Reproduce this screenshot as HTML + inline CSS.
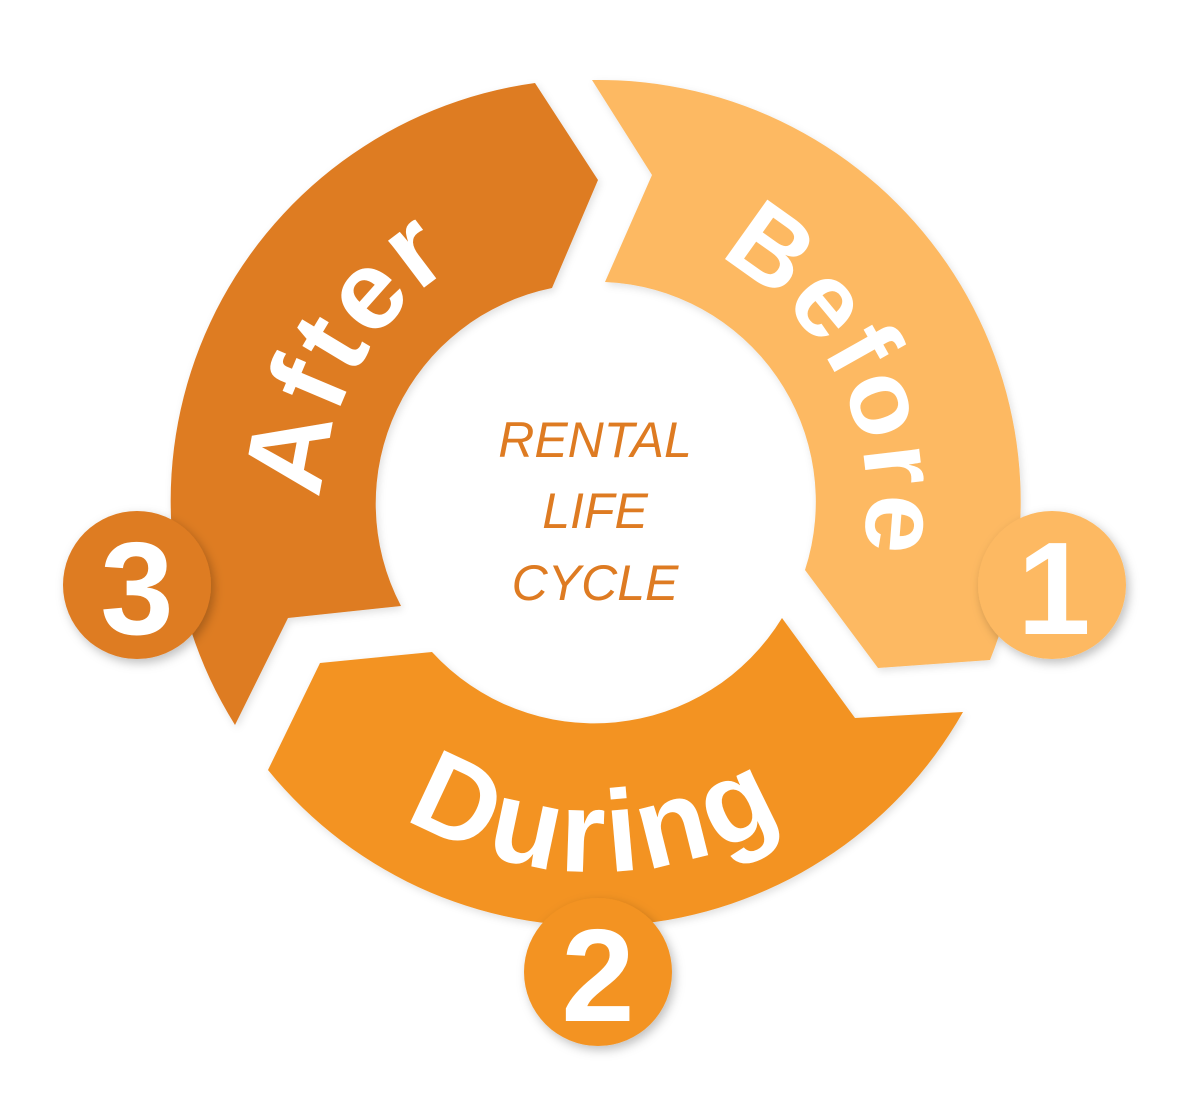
<!DOCTYPE html>
<html><head><meta charset="utf-8"><style>
html,body{margin:0;padding:0;background:#fff;}
svg{display:block;}
</style></head><body>
<svg width="1204" height="1113" viewBox="0 0 1204 1113" xmlns="http://www.w3.org/2000/svg">
<defs>
<filter id="sh" x="-30%" y="-30%" width="160%" height="160%">
<feDropShadow dx="3" dy="4" stdDeviation="5" flood-color="#000" flood-opacity="0.25"/>
</filter>
<filter id="sh2" x="-10%" y="-10%" width="120%" height="120%">
<feDropShadow dx="2" dy="3" stdDeviation="4" flood-color="#000" flood-opacity="0.12"/>
</filter>
<path id="pBefore" d="M 475.8,252.8 A 275 275 0 0 1 716.6,747.2"/>
<path id="pDuring" d="M 236,512 A 360 360 0 0 0 956,512"/>
<path id="pAfter" d="M 451,751 A 290 290 0 0 1 739,249"/>
</defs>
<g filter="url(#sh2)">
<path d="M592,80 A422 422 0 0 1 990,660 L878,668 L805,570 A220 220 0 0 0 605,282 L652,175 Z" fill="#FDB962"/>
<path d="M963,712 A422 422 0 0 1 268,770 L320,663 L432,652 A220 220 0 0 0 782,618 L855,718 Z" fill="#F39322"/>
<path d="M235,725 A422 422 0 0 1 535,83 L598,180 L552,288 A220 220 0 0 0 401,606 L288,618 Z" fill="#DE7B22"/>
</g>
<g font-family="Liberation Sans, sans-serif" font-weight="bold" fill="#fff">
<text font-size="106" text-anchor="middle" letter-spacing="3"><textPath href="#pBefore" startOffset="50%">Before</textPath></text>
<text font-size="116" text-anchor="middle" letter-spacing="5"><textPath href="#pDuring" startOffset="50%">During</textPath></text>
<text font-size="112" text-anchor="middle" letter-spacing="4"><textPath href="#pAfter" startOffset="50%">After</textPath></text>
</g>
<g filter="url(#sh)">
<circle cx="1052" cy="585" r="74" fill="#FDB962"/>
<circle cx="598" cy="972" r="74" fill="#F39322"/>
<circle cx="137" cy="585" r="74" fill="#DE7B22"/>
</g>
<g font-family="Liberation Sans, sans-serif" font-weight="bold" fill="#fff" font-size="132" text-anchor="middle">
<text x="1054" y="634">1</text>
<text x="598" y="1021">2</text>
<text x="137" y="634">3</text>
</g>
<g font-family="Liberation Sans, sans-serif" font-style="italic" fill="#DE7B22" font-size="50" text-anchor="middle">
<text x="595" y="457">RENTAL</text>
<text x="595" y="528">LIFE</text>
<text x="595" y="600">CYCLE</text>
</g>
</svg>
</body></html>
